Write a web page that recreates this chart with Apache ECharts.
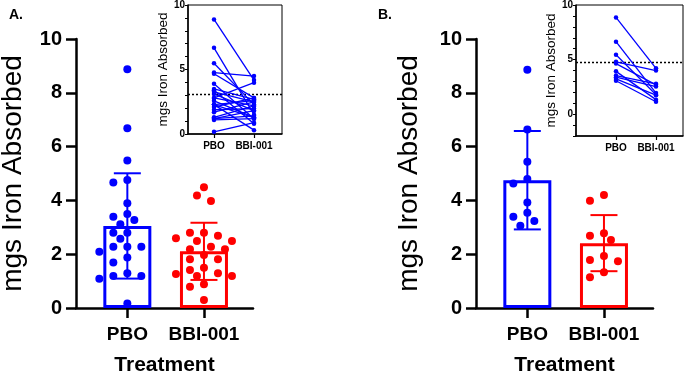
<!DOCTYPE html>
<html>
<head>
<meta charset="utf-8">
<script src="https://cdn.jsdelivr.net/npm/echarts@6/dist/echarts.min.js"></script>
<style>
html, body { margin: 0; padding: 0; background: #fff; }
#main { width: 685px; height: 376px; }
</style>
</head>
<body>
<div id="main"></div>
<script>
// groups on the x axis
var categories = ['PBO', 'BBI-001'];
var yTicks = [0, 2, 4, 6, 8, 10];
var insetTicks = [0, 5, 10];

// panel A: 24 subjects, same order in both arrays (paired)
var pboA = [8.88, 6.68, 5.48, 4.76, 4.67, 3.89, 3.49, 3.39, 3.27, 3.11, 2.80, 2.80,
            2.57, 2.28, 2.28, 2.28, 2.09, 1.88, 1.69, 1.29, 1.19, 1.19, 1.09, 0.17];
var bbiA = [4.18, 1.50, 2.28, 4.49, 2.80, 1.19, 2.69, 0.79, 2.49, 1.81, 2.18, 3.98,
            1.29, 2.59, 1.26, 0.30, 2.80, 1.97, 2.49, 2.18, 1.81, 1.41, 1.19, 0.88];

// panel B: 10 subjects
var pboB = [8.86, 6.64, 5.44, 4.80, 4.63, 3.92, 3.54, 3.39, 3.23, 3.06];
var bbiB = [4.20, 1.93, 1.78, 3.99, 2.69, 1.33, 2.78, 2.53, 1.74, 1.14];

var BLUE = '#0000ff', RED = '#ff0000';
var FONT = 'Liberation Sans, Arial, sans-serif';
var groupColors = [BLUE, RED];

function mean(a) {
    var s = 0;
    a.forEach(function (v) { s += v; });
    return s / a.length;
}
function sd(a) {
    var m = mean(a), s = 0;
    a.forEach(function (v) { s += (v - m) * (v - m); });
    return Math.sqrt(s / (a.length - 1));
}

// main plots: x from -0.67 to 1.64 over 177px, y 0..10 over 269px
var xMin = -0.67, xMax = 1.64;
var pxPerX = 177 / (xMax - xMin), pxPerY = 269 / 10;

// simple beeswarm so the dots don't overlap (like prism's scatter)
function swarm(vals, center) {
    var step = 7, d = 9;
    var placed = [], out = [];
    var order = vals.map(function (v, i) { return i; })
        .sort(function (a, b) { return vals[b] - vals[a]; });
    order.forEach(function (i) {
        var y = vals[i] * pxPerY;
        for (var k = 0; k < 30; k++) {
            var off = k === 0 ? 0 : (k % 2 ? -Math.ceil(k / 2) : Math.ceil(k / 2));
            var x = off * step;
            var ok = placed.every(function (p) {
                var dx = p[0] - x, dy = p[1] - y;
                return dx * dx + dy * dy >= d * d;
            });
            if (ok) {
                placed.push([x, y]);
                out[i] = [center + x / pxPerX, vals[i]];
                break;
            }
        }
    });
    return out;
}

function errRender(params, api) {
    var x = api.value(0), lo = api.value(1), hi = api.value(2);
    var top = api.coord([x, hi]), bot = api.coord([x, lo]);
    var half = 13.5;
    var st = { stroke: api.visual('color'), lineWidth: 2 };
    return {
        type: 'group',
        children: [
            { type: 'line', shape: { x1: top[0], y1: top[1], x2: bot[0], y2: bot[1] }, style: st },
            { type: 'line', shape: { x1: top[0] - half, y1: top[1], x2: top[0] + half, y2: top[1] }, style: st },
            { type: 'line', shape: { x1: bot[0] - half, y1: bot[1], x2: bot[0] + half, y2: bot[1] }, style: st }
        ]
    };
}

var myChart = echarts.init(document.getElementById('main'));

var grids = [
    { left: 76, top: 39, width: 177, height: 269, outerBoundsMode: 'none' },
    { left: 476, top: 39, width: 177, height: 269, outerBoundsMode: 'none' },
    { left: 188, top: 5, width: 94, height: 129, show: true, borderColor: '#000', borderWidth: 1, outerBoundsMode: 'none' },
    { left: 576, top: 5, width: 107, height: 131, show: true, borderColor: '#000', borderWidth: 1, outerBoundsMode: 'none' }
];

function mainX(g) {
    return {
        type: 'value', gridIndex: g, min: xMin, max: xMax,
        splitLine: { show: false },
        axisLine: { onZero: false, lineStyle: { color: '#000', width: 2.5 } },
        axisTick: { customValues: [0, 1], length: 10, lineStyle: { color: '#000', width: 2.5 } },
        axisLabel: {
            customValues: [0, 1], margin: 17, color: '#000', fontSize: 19, fontWeight: 'bold', fontFamily: FONT,
            formatter: function (v) { return categories[Math.round(v)]; }
        },
        name: 'Treatment', nameLocation: 'middle', nameGap: 47,
        nameTextStyle: { color: '#000', fontSize: 21, fontWeight: 'bold', fontFamily: FONT }
    };
}
function mainY(g, gap) {
    return {
        type: 'value', gridIndex: g, min: 0, max: 10, interval: 2,
        splitLine: { show: false },
        axisLine: { show: true, onZero: false, lineStyle: { color: '#000', width: 2.5 } },
        axisTick: { show: true, length: 10, lineStyle: { color: '#000', width: 2.5 } },
        axisLabel: { customValues: yTicks, margin: 14, color: '#000', fontSize: 20, fontWeight: 'bold', fontFamily: FONT },
        name: 'mgs Iron Absorbed', nameLocation: 'middle', nameRotate: 90, nameGap: gap,
        nameTextStyle: { color: '#000', fontSize: 28, fontFamily: FONT }
    };
}
function insetX(g, min, max) {
    return {
        type: 'value', gridIndex: g, min: min, max: max,
        splitLine: { show: false },
        axisLine: { onZero: false, lineStyle: { color: '#000', width: 1.5 } },
        axisTick: { customValues: [0, 1], length: 4, lineStyle: { color: '#000', width: 1.2 } },
        axisLabel: {
            customValues: [0, 1], margin: 7, color: '#000', fontSize: 10, fontWeight: 'bold', fontFamily: FONT,
            formatter: function (v) { return categories[Math.round(v)]; }
        }
    };
}
function insetY(g, min, gap) {
    return {
        type: 'value', gridIndex: g, min: min, max: 10, interval: 1,
        splitLine: { show: false },
        axisLine: { show: true, onZero: false, lineStyle: { color: '#000', width: 1.5 } },
        axisTick: { show: true, length: 3, lineStyle: { color: '#000', width: 1 } },
        axisLabel: { customValues: insetTicks, margin: 3, color: '#000', fontSize: 10, fontWeight: 'bold', fontFamily: FONT },
        name: 'mgs Iron Absorbed', nameLocation: 'middle', nameRotate: 90, nameGap: gap,
        nameTextStyle: { color: '#000', fontSize: 13.5, fontFamily: FONT }
    };
}

var panels = [
    { pbo: pboA, bbi: bbiA },
    { pbo: pboB, bbi: bbiB }
];

var series = [];
panels.forEach(function (p, i) {
    var groups = [p.pbo, p.bbi];
    // hollow bars at the mean
    series.push({
        type: 'bar', xAxisIndex: i, yAxisIndex: i, barWidth: 48, z: 2,
        data: groups.map(function (g, k) {
            return {
                value: [k, mean(g)],
                itemStyle: { color: 'rgba(0,0,0,0)', borderColor: groupColors[k], borderWidth: 3 }
            };
        })
    });
    groups.forEach(function (g, k) {
        var m = mean(g), s = sd(g);
        series.push({
            type: 'custom', xAxisIndex: i, yAxisIndex: i, z: 3,
            itemStyle: { color: groupColors[k] },
            renderItem: errRender,
            data: [[k, m - s, m + s]]
        });
        series.push({
            type: 'scatter', xAxisIndex: i, yAxisIndex: i, z: 4,
            symbolSize: 8, itemStyle: { color: groupColors[k], opacity: 1 },
            data: swarm(g, k)
        });
    });
    // inset: before/after lines per subject
    p.pbo.forEach(function (v, j) {
        var s = {
            type: 'line', xAxisIndex: i + 2, yAxisIndex: i + 2, z: 5,
            symbol: 'circle', symbolSize: 4.5, showSymbol: true,
            itemStyle: { color: BLUE }, lineStyle: { color: BLUE, width: 1.3 },
            data: [[0, v], [1, p.bbi[j]]]
        };
        if (j === 0) {
            s.markLine = {
                silent: true, symbol: 'none', label: { show: false },
                lineStyle: { color: '#000', type: [2, 2], width: 1.3 },
                data: [{ yAxis: mean(p.pbo) }]
            };
        }
        series.push(s);
    });
});

var option = {
    animation: false,
    title: [
        { text: 'A.', left: 9, top: 8, padding: 0, textStyle: { fontSize: 14, fontWeight: 'bold', color: '#000', fontFamily: FONT } },
        { text: 'B.', left: 378, top: 8, padding: 0, textStyle: { fontSize: 14, fontWeight: 'bold', color: '#000', fontFamily: FONT } }
    ],
    grid: grids,
    xAxis: [mainX(0), mainX(1), insetX(2, -0.65, 1.70), insetX(3, -1, 1.675)],
    yAxis: [mainY(0, 49), mainY(1, 53), insetY(2, 0, 14), insetY(3, -2, 5)],
    series: series
};

myChart.setOption(option);
</script>
</body>
</html>
